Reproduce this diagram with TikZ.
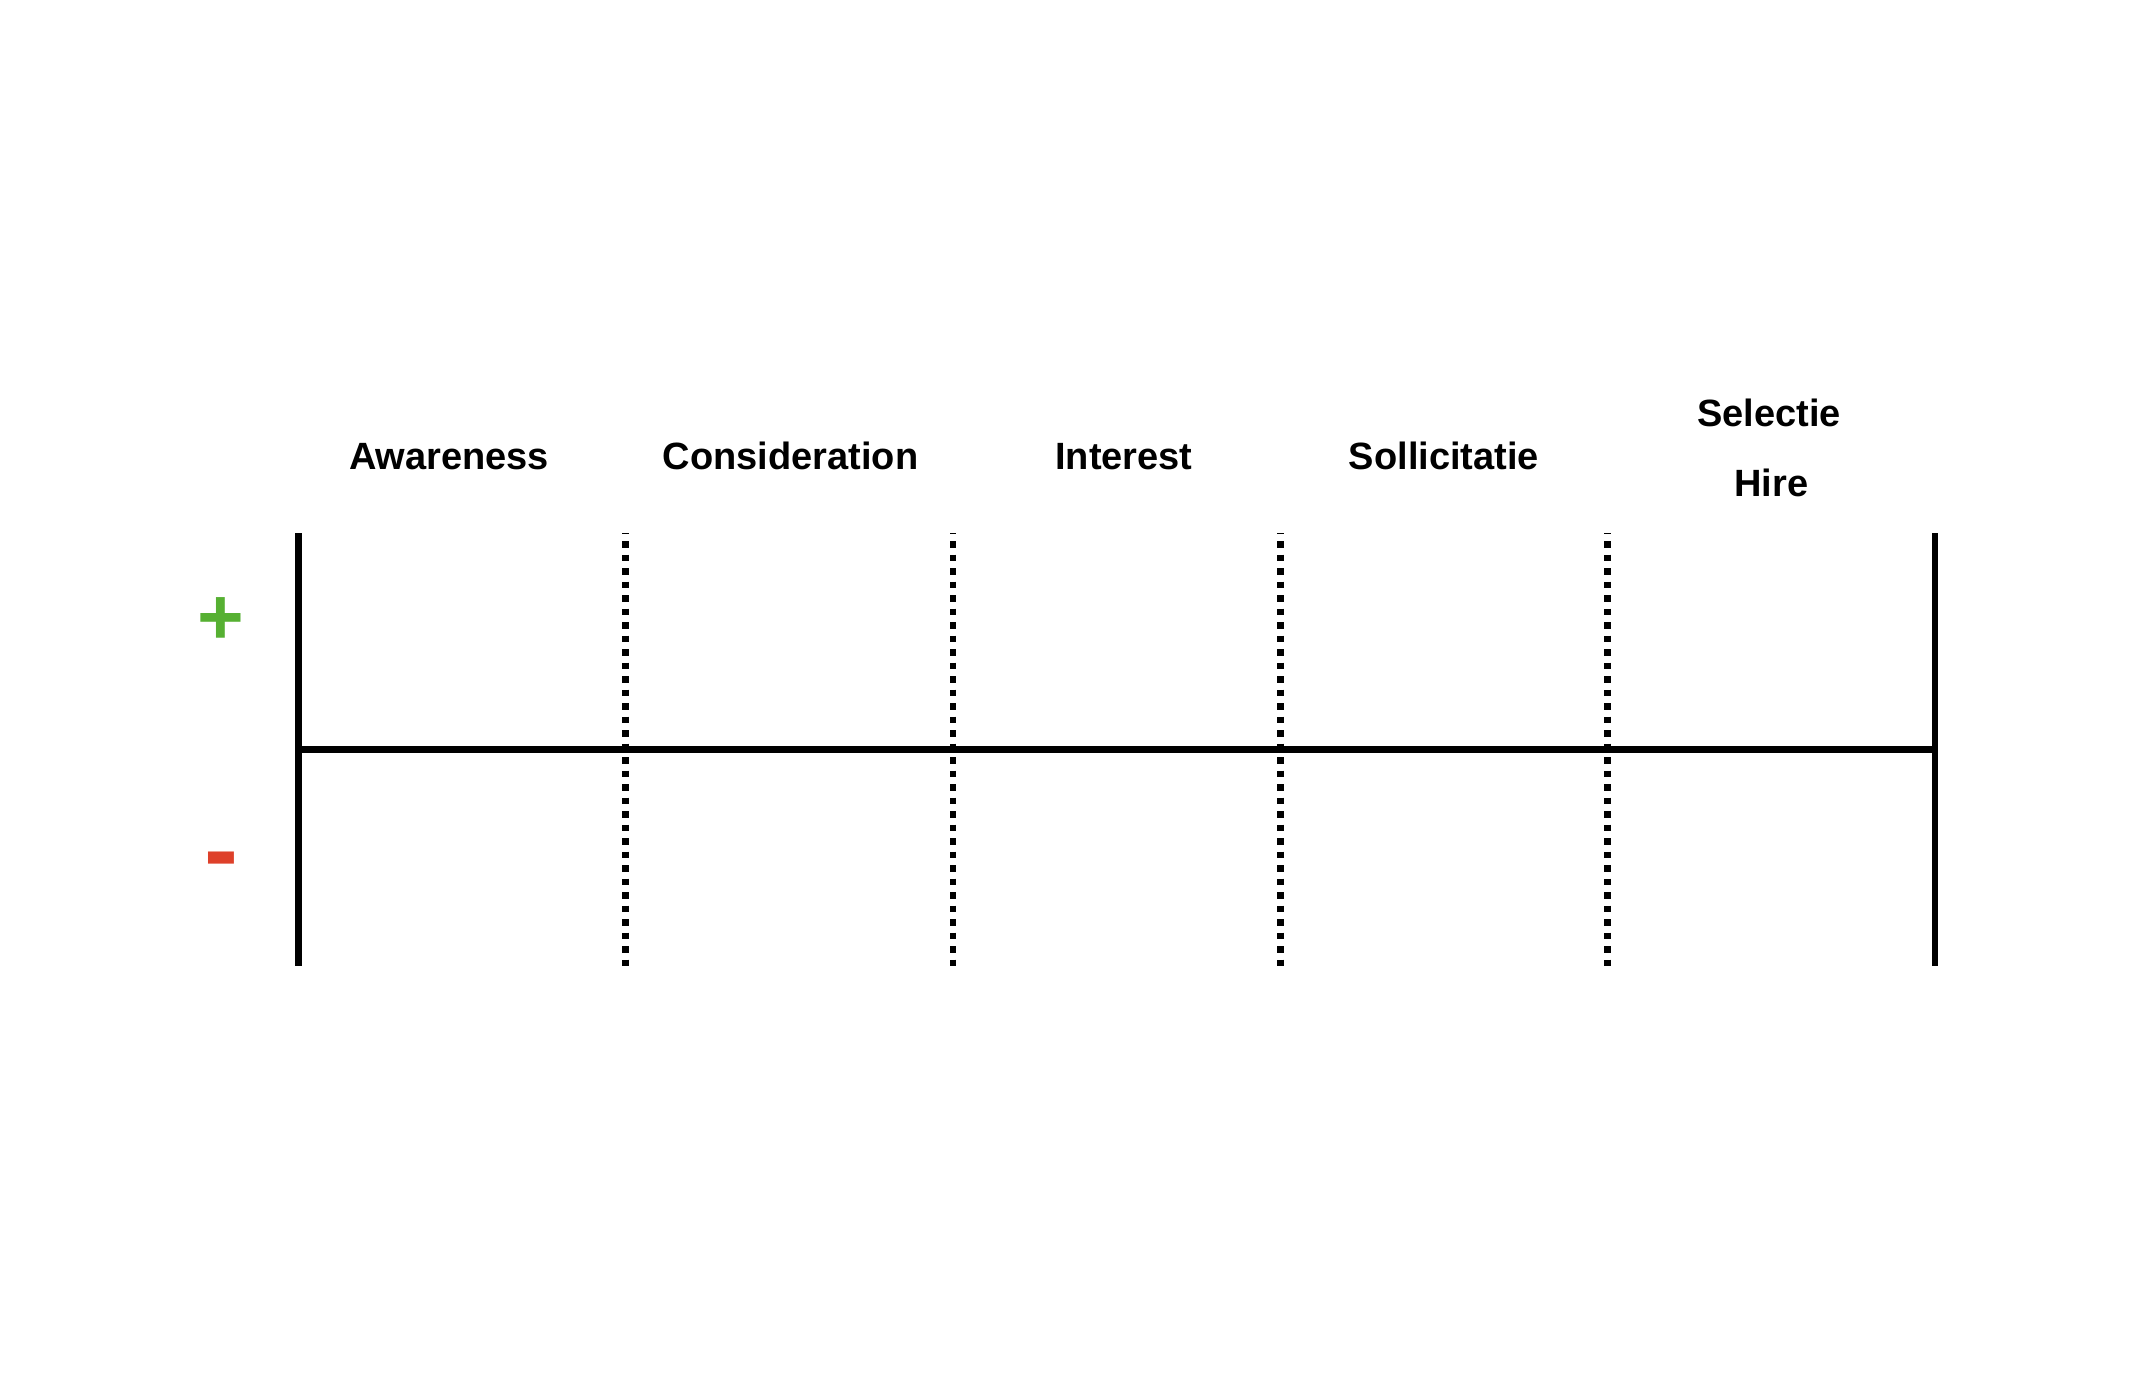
\documentclass[tikz,border=0pt]{standalone}
\usepackage{fontspec}
\setmainfont{Liberation Sans}
\definecolor{plusgreen}{RGB}{86,176,50}
\definecolor{minusred}{RGB}{222,64,42}
\tikzset{
  solidline/.style={line width=6.7pt, black},
  dotline/.style={line width=6.7pt, black, dash pattern=on 6.7pt off 6.8pt, dash phase=5.8pt},
  axisline/.style={line width=6.5pt, black},
  lbl/.style={anchor=base, inner sep=0pt, font=\fontsize{38pt}{44pt}\selectfont\bfseries},
  sign/.style={anchor=center, inner sep=0pt, font=\fontsize{80pt}{80pt}\selectfont\bfseries},
  minussign/.style={anchor=base, inner sep=0pt, font=\fontsize{102pt}{102pt}\selectfont\bfseries}
}
\begin{document}
\begin{tikzpicture}[x=1pt,y=-1pt]
\useasboundingbox (0,0) rectangle (2152,1382);
\fill[white] (0,0) rectangle (2152,1382);
\foreach \i in {0,...,5}{
  \coordinate (t\i) at ({298.5+327.3*\i},533.3);
  \coordinate (b\i) at ({298.5+327.3*\i},965.7);
}
\coordinate (hl) at (298.5,749.5);
\coordinate (hr) at (1935,749.5);
\draw[dotline] (t1) -- (b1);
\draw[dotline] (t2) -- (b2);
\draw[dotline] (t3) -- (b3);
\draw[dotline] (t4) -- (b4);
\draw[axisline] (hl) -- (hr);
\draw[solidline] (t0) -- (b0);
\draw[solidline] (t5) -- (b5);
\node[lbl] (aw) at (449,469.3) {Awareness};
\node[lbl] (co) at (790.5,469.3) {Consideration};
\node[lbl] (in) at (1124,469.3) {Interest};
\node[lbl] (so) at (1444,469.3) {Sollicitatie};
\node[lbl] (se) at (1769,426.7) {Selectie};
\node[lbl] (hi) at (1771.5,496.7) {Hire};
\node[sign, text=plusgreen] (plus) at (221,621) {+};
\node[minussign, text=minusred] (minus) at (221.5,884) {-};
\end{tikzpicture}
\end{document}
